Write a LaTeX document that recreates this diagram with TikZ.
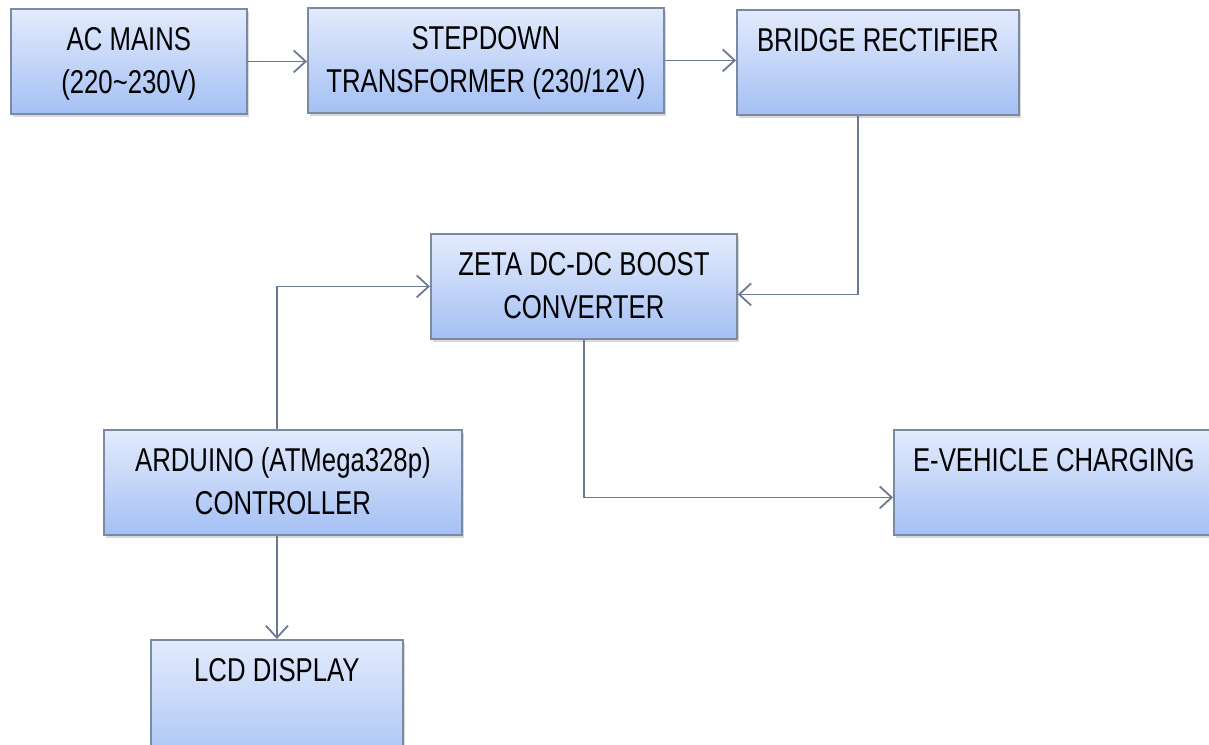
\documentclass[tikz,border=0pt]{standalone}
\usepackage{fontspec}
\setmainfont{Liberation Sans}[FakeStretch=0.78]
\usetikzlibrary{arrows.meta,shadows}
\definecolor{boxtop}{HTML}{E3EBFC}
\definecolor{boxbot}{HTML}{A4C0F4}
\definecolor{boxline}{HTML}{7A8AA5}
\definecolor{wire}{HTML}{6A7A94}
\tikzset{
block/.style={draw=boxline, line width=1.8pt, top color=boxtop, bottom color=boxbot,
  anchor=north west, align=center, inner xsep=0pt, inner ysep=5pt,
  text height=37pt, text depth=58pt, font=\fontsize{33}{43}\selectfont,
  drop shadow={shadow xshift=2pt, shadow yshift=-3pt, opacity=.3}},
twoline/.style={text height=80pt, text depth=15pt},
conn/.style={wire, line width=1.8pt, -{Straight Barb[length=12pt,width=22pt]}}
}

\begin{document}
\begin{tikzpicture}[x=1pt,y=-1pt]
\useasboundingbox (0,0) rectangle (1209,744);
\clip (0,0) rectangle (1209,744);
\node[block, twoline, minimum width=236pt] (ac) at (10,8) {AC MAINS\\(220\textasciitilde230V)};
\node[block, twoline, minimum width=356pt] (step) at (307,7) {STEPDOWN\\TRANSFORMER (230/12V)};
\node[block, minimum width=282pt] (bridge) at (736,9) {BRIDGE RECTIFIER};
\node[block, twoline, minimum width=306pt] (zeta) at (430,233) {ZETA DC-DC BOOST\\CONVERTER};
\node[block, twoline, minimum width=358pt] (ard) at (103,429) {ARDUINO (ATMega328p)\\CONTROLLER};
\node[block, minimum width=320pt] (ev) at (893,429) {E-VEHICLE CHARGING};
\node[block, minimum width=252pt, text depth=90pt] (lcd) at (150,639) {LCD DISPLAY};

\draw[conn] (ac.east) -- (ac.east -| step.west);
\draw[conn] (step.east) -- (step.east -| bridge.west);
\draw[conn] ([xshift=-20pt]bridge.south) |- ([yshift=-8pt]zeta.east);
\draw[conn] (zeta.south) |- ([yshift=-15pt]ev.west);
\draw[conn] (ard.north -| lcd.north) |- (zeta.west);
\draw[conn] (ard.south -| lcd.north) -- (lcd.north);
\end{tikzpicture}
\end{document}
